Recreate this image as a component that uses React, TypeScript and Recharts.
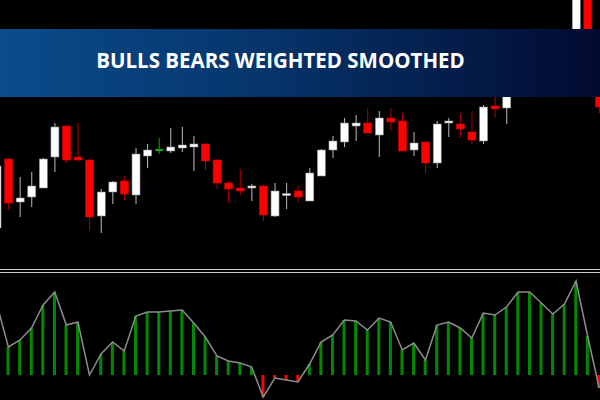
import React from 'react';
import { ComposedChart, Bar, Line, XAxis, YAxis, Cell } from 'recharts';

// candle prices, left to right (first candle is cut at the left edge)
const opens = [22, 91, 48, 53, 62, 93, 124, 93, 90, 34, 58, 69, 55, 94, 100, 99, 102, 103, 106, 90, 67, 62, 62, 64, 34, 56, 59, 49, 74, 100, 108, 124, 127, 115, 132, 129, 100, 108, 87, 127, 126, 118, 109, 144, 142, 168, 186, 178, 193, 185, 195, 258, 200];
const closes = [84, 47, 52, 64, 91, 123, 90, 90, 33, 58, 68, 56, 96, 100, 100, 103, 105, 106, 89, 67, 61, 59, 64, 35, 59, 56.4, 53, 77, 100, 109, 127, 127, 117, 132, 128, 99, 107, 87, 126, 129, 121, 110, 143, 141, 170, 185, 178, 192, 184, 205, 260, 200, 143];
const highs = [88, 91, 73, 78, 92, 127, 124, 127, 91, 61, 69, 74, 102, 106, 112, 122, 123, 114, 107, 91, 69, 81, 66, 65, 67, 67, 64, 82, 101, 114, 132, 135, 142, 139, 142, 137, 118, 108, 129, 132, 137, 139, 145, 155, 175, 190, 193, 198, 200, 212, 265, 262, 205];
const lows = [20, 40, 33, 43, 62, 78, 87, 88, 19, 17, 46, 50, 46, 82, 96, 97, 98, 79, 80, 61, 47, 55, 49, 29, 33, 41, 48, 49, 74, 92, 103, 109, 117, 93, 119, 99, 94, 77, 82, 113, 112, 105, 106, 132, 126, 163, 172, 174, 179, 181, 190, 195, 137];

// Bulls Bears Weighted Smoothed values
const bbws = [71, 28, 35, 47, 70, 83, 50, 53, 0, 21, 33, 24, 59, 63, 63, 64, 65, 52, 38, 19, 14, 12, 8, -22, -3, -5, -7, 11, 33, 40, 55, 54, 45, 57, 53, 25, 32, 15, 50, 53, 47, 37, 62, 60, 68, 83, 83, 72, 61, 71, 94, 39, -13];

const TITLE = 'BULLS BEARS WEIGHTED SMOOTHED';

const data = opens.map((o, i) => ({
  i,
  open: o,
  close: closes[i],
  high: highs[i],
  low: lows[i],
  bb: bbws[i],
}));

const CHART_W = 614;
const CHART_LEFT = -9.4;

const Candle = (props: any) => {
  const { x, y, width, height, payload } = props;
  const { open, close, high, low } = payload;
  const top = Math.min(y, y + height);
  const h = Math.abs(height);
  const range = high - low;
  const toY = (p: number) => top + (range === 0 ? 0 : ((high - p) / range) * h);
  const cx = x + width / 2;
  const bull = close > open;
  const doji = close === open;
  const bodyColor = doji ? '#00b000' : bull ? '#ffffff' : '#ff0000';
  const wickColor = doji ? '#00b000' : bull ? '#bdbdbd' : '#b00000';
  const bTop = toY(Math.max(open, close));
  const bBot = toY(Math.min(open, close));
  return (
    <g>
      <line x1={cx} x2={cx} y1={top} y2={top + h} stroke={wickColor} strokeWidth={1} />
      {doji ? (
        <line x1={x} x2={x + width} y1={bTop} y2={bTop} stroke={bodyColor} strokeWidth={2} />
      ) : (
        <rect
          x={x}
          y={bTop}
          width={width}
          height={Math.max(2, bBot - bTop)}
          fill={bodyColor}
          stroke={bull ? '#8a8a8a' : '#cc0000'}
          strokeWidth={0.6}
        />
      )}
    </g>
  );
};

export default function App() {
  return (
    <div
      style={{
        position: 'absolute',
        left: 0,
        top: 0,
        width: 600,
        height: 400,
        background: '#000',
        overflow: 'hidden',
      }}
    >
      <div style={{ position: 'absolute', left: CHART_LEFT, top: 0 }}>
        <ComposedChart width={CHART_W} height={260} data={data} margin={{ top: 0, right: 0, bottom: 0, left: 0 }}>
          <XAxis dataKey="i" hide />
          <YAxis hide domain={[-10, 250]} allowDataOverflow />
          <Bar
            dataKey={(d: any) => [d.low, d.high]}
            barSize={8}
            shape={<Candle />}
            isAnimationActive={false}
          />
        </ComposedChart>
      </div>

      <div style={{ position: 'absolute', left: 0, top: 269, width: 600, height: 1, background: '#c8c8c8' }} />
      <div style={{ position: 'absolute', left: 0, top: 272, width: 600, height: 1, background: '#c8c8c8' }} />

      <div style={{ position: 'absolute', left: CHART_LEFT, top: 275 }}>
        <ComposedChart width={CHART_W} height={125} data={data} margin={{ top: 0, right: 0, bottom: 0, left: 0 }}>
          <XAxis dataKey="i" hide />
          <YAxis hide domain={[-25, 100]} allowDataOverflow />
          <Bar dataKey="bb" barSize={3} isAnimationActive={false}>
            {data.map((d, k) => (
              <Cell key={`bb-${k}`} fill={d.bb >= 0 ? '#008a00' : '#ff0000'} />
            ))}
          </Bar>
          <Line
            dataKey="bb"
            type="linear"
            stroke="#8c8c8c"
            strokeWidth={1.5}
            dot={false}
            isAnimationActive={false}
          />
        </ComposedChart>
      </div>

      <div
        style={{
          position: 'absolute',
          left: 0,
          top: 29,
          width: 600,
          height: 68,
          background: 'linear-gradient(90deg, #0a4c8c 0%, #06346a 45%, #020a30 100%)',
        }}
      >
        <div
          style={{
            width: 561,
            textAlign: 'center',
            lineHeight: '63px',
            color: '#fff',
            fontFamily: '"Open Sans", sans-serif',
            fontWeight: 700,
            fontSize: 20.5,
            letterSpacing: 0,
          }}
        >
          {TITLE}
        </div>
      </div>
    </div>
  );
}
